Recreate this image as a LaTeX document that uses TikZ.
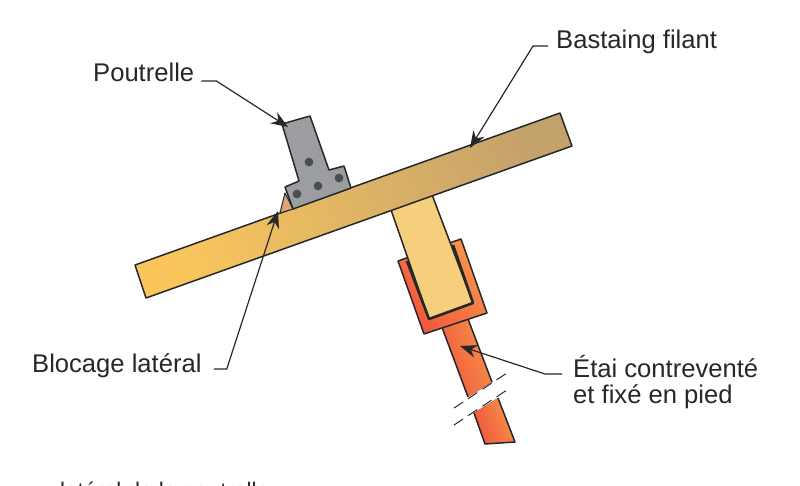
\documentclass[tikz,border=0pt]{standalone}
\usepackage{fontspec}
\setmainfont{Liberation Sans}
\usetikzlibrary{arrows.meta}

\definecolor{woodlight}{HTML}{FAC65C}
\definecolor{wooddark}{HTML}{C4A26C}
\definecolor{stemwood}{HTML}{F6CF7C}
\definecolor{redlight}{HTML}{F8964C}
\definecolor{reddark}{HTML}{F0553A}
\definecolor{plate}{HTML}{9B9DA1}
\definecolor{hole}{HTML}{4A4F52}
\definecolor{wedge}{HTML}{D9A777}
\definecolor{ink}{HTML}{25282A}

\tikzset{
	label/.style={font=\fontsize{25.6}{30}\selectfont, text=ink, inner sep=0pt, align=left},
	outline/.style={draw=ink, line width=1.5pt, line join=round},
	leader/.style={draw=ink, line width=1.2pt, -{Stealth[length=17pt,width=13pt]}},
	breakline/.style={draw=ink, line width=1pt, dash pattern=on 11pt off 6pt},
}

\begin{document}
\begin{tikzpicture}[x=1pt,y=-1pt]
	\useasboundingbox (0,0) rectangle (800,485);

	% Post
	\fill [left color=reddark, right color=redlight, shading angle=110] (440,322)--(465,311)--(492,382)--(468,397)--cycle;
	\fill [left color=reddark, right color=redlight, shading angle=110] (474,413)--(498,398)--(515,442)--(485,444)--cycle;
	\draw [outline] (440,322)--(468,397);
	\draw [outline] (465,311)--(492,382);
	\draw [outline] (474,413)--(485,444)--(515,442)--(498,398);

	% Break
	\draw [breakline] (454,408)--(510,371);
	\draw [breakline] (454,425)--(510,388);

	% Bracket
	\draw [outline, left color=reddark, right color=redlight, shading angle=130] (398,261)--(461,239)--(487,313)--(424,334)--cycle;

	% Stem
	\draw [outline, fill=stemwood] (390,207)--(431,192)--(473,303)--(429,319)--cycle;
	\draw [draw=ink, line width=2.6pt, line join=round] (453,245)--(473,303)--(429,319)--(407,261);

	% Bastaing
	\draw [outline, left color=woodlight, right color=wooddark, shading angle=110] (135,265)--(560,113)--(572,146)--(146,298)--cycle;

	% Wedge
	\draw [outline, fill=wedge, line width=1pt] (285,193)--(293,209)--(280,213)--cycle;

	% Plate
	\draw [outline, fill=plate] (282,124)--(310,116)--(329,170)--(344,166)--(351,188)--(293,209)--(285,187)--(299,181)--cycle;
	\foreach \holepos in {(309,162),(339,178),(318,186),(297,194)}
		\draw [fill=hole, draw=ink!70!plate, line width=1pt] \holepos circle (3.8);

	% Labels
	\node [label, anchor=base west] (poutrelle) at (93,81) {Poutrelle};
	\node [label, anchor=base west] (bastaing) at (556,48) {Bastaing filant};
	\node [label, anchor=base west] (blocage) at (32,372) {Blocage latéral};
	\node [label, anchor=base west] (etai) at (573,377) {Étai contreventé};
	\node [label, anchor=base west] (pied) at (573,403) {et fixé en pied};

	% Cut caption
	\begin{scope}
		\clip (0,0) rectangle (800,485);
		\node [label, anchor=base west, font=\fontsize{22.5}{27}\selectfont] (legend) at (60,498) {latéral de la poutrelle};
	\end{scope}

	% Leaders
	\coordinate (tipPoutrelle) at (288,127);
	\coordinate (tipBastaing) at (470,148);
	\coordinate (tipBlocage) at (278,211);
	\coordinate (tipEtai) at (460,346);
	\draw [leader] (poutrelle.base east)++(7,0)--++(15,0)--(tipPoutrelle);
	\draw [leader] (bastaing.base west)++(-8,-2)--++(-15,0)--(tipBastaing);
	\draw [leader] (blocage.base east)++(12,-3)--++(13,0)--(tipBlocage);
	\draw [leader] (etai.base west)++(-11,-3)--++(-17,0)--(tipEtai);
\end{tikzpicture}
\end{document}
